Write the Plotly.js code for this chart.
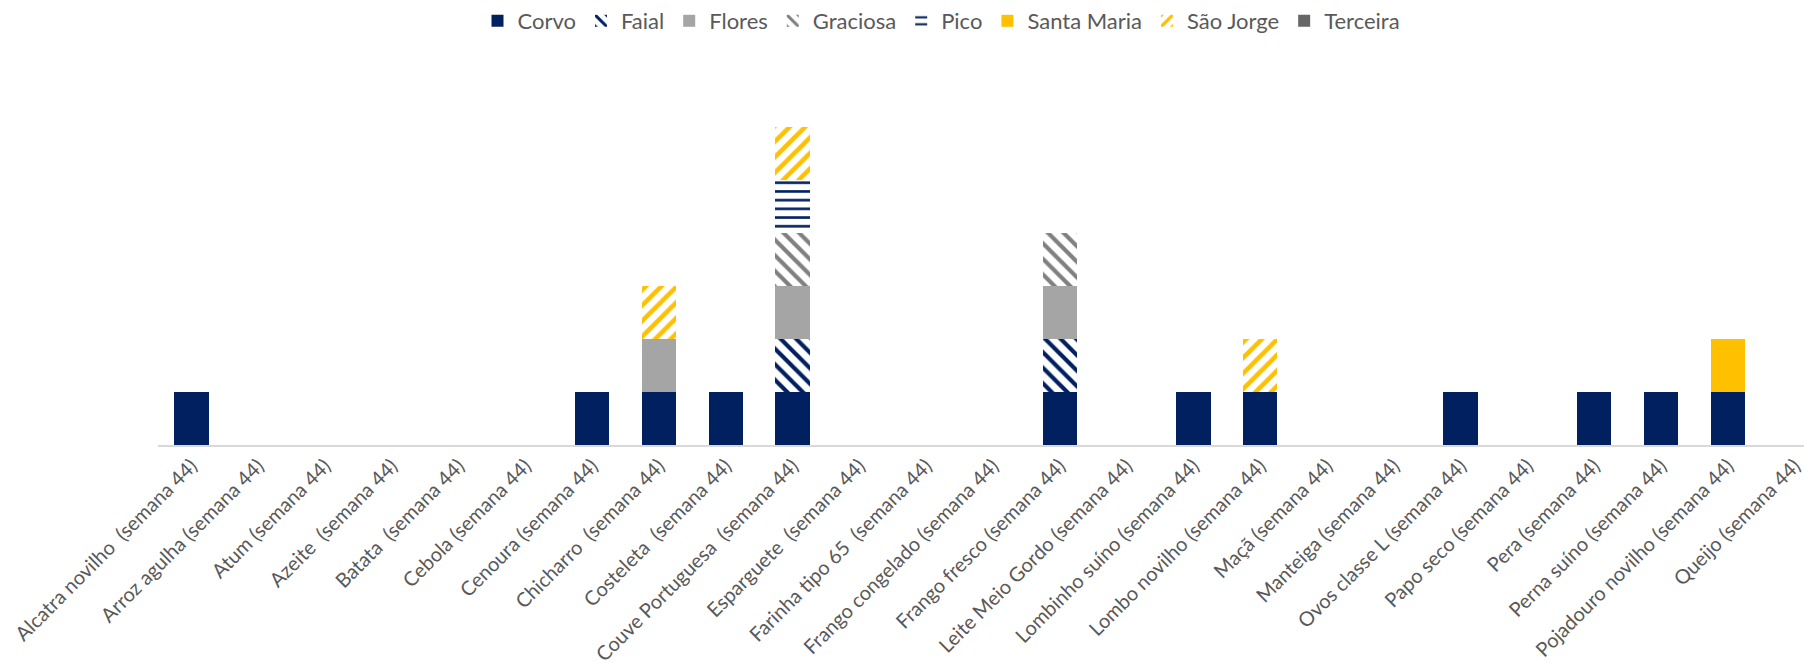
<!DOCTYPE html>
<html>
<head>
<meta charset="utf-8">
<script src="https://cdn.plot.ly/plotly-3.0.1.min.js"></script>
<style>html,body{margin:0;padding:0;background:#fff;}</style>
</head>
<body>
<div id="chart" style="width:1804px;height:663px;"></div>
<script>
const categories = [
  "Alcatra novilho\u00a0 (semana 44)",
  "Arroz agulha (semana 44)",
  "Atum (semana 44)",
  "Azeite\u00a0 (semana 44)",
  "Batata\u00a0 (semana 44)",
  "Cebola (semana 44)",
  "Cenoura (semana 44)",
  "Chicharro\u00a0 (semana 44)",
  "Costeleta\u00a0 (semana 44)",
  "Couve Portuguesa\u00a0 (semana 44)",
  "Esparguete\u00a0 (semana 44)",
  "Farinha tipo 65\u00a0 (semana 44)",
  "Frango congelado (semana 44)",
  "Frango fresco (semana 44)",
  "Leite Meio Gordo (semana 44)",
  "Lombinho suíno (semana 44)",
  "Lombo novilho (semana 44)",
  "Maçã (semana 44)",
  "Manteiga (semana 44)",
  "Ovos classe L (semana 44)",
  "Papo seco (semana 44)",
  "Pera (semana 44)",
  "Perna suíno (semana 44)",
  "Pojadouro novilho (semana 44)",
  "Queijo (semana 44)"
];

//                0    1    2    3    4    5    6    7    8    9    10   11   12   13   14   15   16   17   18   19   20   21   22   23   24
const corvo     = [1,null,null,null,null,null,   1,   1,   1,   1,null,null,null,   1,null,   1,   1,null,null,   1,null,   1,   1,   1,null];
const faial     = [null,null,null,null,null,null,null,null,null,1,null,null,null,   1,null,null,null,null,null,null,null,null,null,null,null];
const flores    = [null,null,null,null,null,null,null,   1,null,   1,null,null,null,   1,null,null,null,null,null,null,null,null,null,null,null];
const graciosa  = [null,null,null,null,null,null,null,null,null,1,null,null,null,   1,null,null,null,null,null,null,null,null,null,null,null];
const pico      = [null,null,null,null,null,null,null,null,null,1,null,null,null,null,null,null,null,null,null,null,null,null,null,null,null];
const santaMaria= [null,null,null,null,null,null,null,null,null,null,null,null,null,null,null,null,null,null,null,null,null,null,null,   1,null];
const saoJorge  = [null,null,null,null,null,null,null,   1,null,   1,null,null,null,null,null,null,   1,null,null,null,null,null,null,null,null];
const terceira  = [null,null,null,null,null,null,null,null,null,null,null,null,null,null,null,null,null,null,null,null,null,null,null,null,null];

const NAVY = "#002060", GRAY = "#A5A5A5", DGRAY = "#808080", GOLD = "#FFC000", TGRAY = "#666666";

function solid(name, y, color) {
  return {type: "bar", name: name, x: categories, y: y,
    marker: {color: color, line: {width: 0}}, hoverinfo: "x+y+name"};
}
function patterned(name, y, color, shape, size, solidity) {
  return {type: "bar", name: name, x: categories, y: y,
    marker: {color: color, line: {width: 0},
      pattern: {shape: shape, fgcolor: color, bgcolor: "#ffffff", size: size, solidity: solidity, fillmode: "replace"}},
    hoverinfo: "x+y+name"};
}

const data = [
  solid("Corvo", corvo, NAVY),
  patterned("Faial", faial, NAVY, "\\", 11, 0.38),
  solid("Flores", flores, GRAY),
  patterned("Graciosa", graciosa, DGRAY, "\\", 11, 0.38),
  patterned("Pico", pico, NAVY, "-", 8.7, 0.3),
  solid("Santa Maria", santaMaria, GOLD),
  patterned("São Jorge", saoJorge, GOLD, "/", 11, 0.42),
  solid("Terceira", terceira, TGRAY)
];

const layout = {
  width: 1804, height: 663,
  margin: {l: 158, r: 0, t: 74, b: 218, pad: 0},
  paper_bgcolor: "#ffffff", plot_bgcolor: "#ffffff",
  barmode: "stack", bargap: 0.484,
  font: {family: "Lato, 'Open Sans', sans-serif", color: "#595959"},
  showlegend: true,
  legend: {orientation: "h", x: 0.476, xanchor: "center", y: 1.0, yanchor: "top",
    yref: "container", font: {size: 22, color: "#595959"}, traceorder: "normal"},
  xaxis: {
    type: "category", range: [-0.5, 24.14], tickmode: "linear", dtick: 1,
    tickangle: -45, tickfont: {size: 20, color: "#595959"},
    showgrid: false, zeroline: false, showline: true, linecolor: "#D9D9D9", linewidth: 1.5,
    ticks: "", fixedrange: true, automargin: false
  },
  yaxis: {
    range: [0, 7], visible: false, showgrid: false, zeroline: false, fixedrange: true
  }
};

Plotly.newPlot("chart", data, layout, {displayModeBar: false, staticPlot: true});
</script>
</body>
</html>
